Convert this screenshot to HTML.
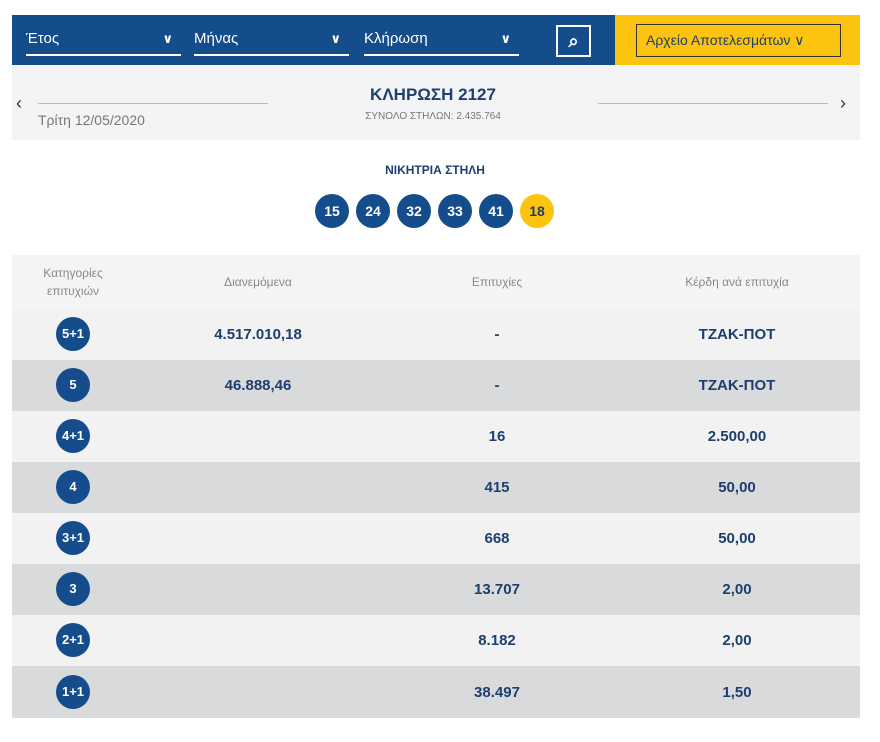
<!DOCTYPE html>
<html><head><meta charset="utf-8"><style>
*{margin:0;padding:0;box-sizing:border-box}
body{width:880px;height:742px;background:#fff;font-family:"Liberation Sans","DejaVu Sans",sans-serif;position:relative;overflow:hidden}
.a{position:absolute}
.bar{left:12px;top:15px;width:603px;height:50px;background:#154c8c}
.ybar{left:615px;top:15px;width:245px;height:50px;background:#fcc30f}
.sel{color:#fff;font-size:15px;top:30px;border-bottom:2px solid #fff;height:26px}
.chev{position:absolute;right:8px;top:1px;font-size:13px;font-weight:bold}
.nav{left:12px;top:65px;width:848px;height:75px;background:#f3f4f6}
.ball{width:34px;height:34px;border-radius:50%;background:#154c8c;color:#fff;font-weight:bold;font-size:14px;text-align:center;line-height:34px;top:194px}
.row{left:12px;width:848px;height:51px}
.badge{left:56px;width:34px;height:34px;border-radius:50%;background:#154c8c;color:#fff;font-weight:bold;font-size:13px;text-align:center;line-height:34px}
.c{color:#1d3e6e;font-weight:bold;font-size:15px;text-align:center;width:240px}
.h{color:#888;font-size:12px;text-align:center}
</style></head><body>
<div class="a bar"></div><div class="a ybar"></div>
<div class="a sel" style="left:26px;width:155px">Έτος<span class="chev">&#x2228;</span></div>
<div class="a sel" style="left:194px;width:155px">Μήνας<span class="chev">&#x2228;</span></div>
<div class="a sel" style="left:364px;width:155px">Κλήρωση<span class="chev">&#x2228;</span></div>
<div class="a" style="left:556px;top:25px;width:35px;height:32px;border:2px solid #fff;color:#fff;text-align:center;line-height:28px;font-size:18px;font-weight:bold">&#x2315;</div>
<div class="a" style="left:636px;top:24px;width:205px;height:33px;border:1px solid #333;color:#1d3e6e;font-size:14px;line-height:31px;padding-left:9px">Αρχείο Αποτελεσμάτων &#x2228;</div>
<div class="a nav"></div>
<div class="a" style="left:16px;top:93px;font-size:18px;color:#333">‹</div>
<div class="a" style="left:840px;top:93px;font-size:18px;color:#333">›</div>
<div class="a" style="left:38px;top:103px;width:230px;height:1px;background:#bbb"></div>
<div class="a" style="left:598px;top:103px;width:230px;height:1px;background:#bbb"></div>
<div class="a" style="left:38px;top:112px;font-size:14px;color:#777">Τρίτη 12/05/2020</div>
<div class="a" style="left:0;width:866px;top:85px;text-align:center;font-size:17px;font-weight:bold;color:#1d3e6e">ΚΛΗΡΩΣΗ 2127</div>
<div class="a" style="left:0;width:866px;top:111px;text-align:center;font-size:10px;color:#777">ΣΥΝΟΛΟ ΣΤΗΛΩΝ: 2.435.764</div>
<div class="a" style="left:0;width:870px;top:163px;text-align:center;font-size:12px;font-weight:bold;color:#1d3e6e">ΝΙΚΗΤΡΙΑ ΣΤΗΛΗ</div>
<div class="a ball" style="left:315px">15</div>
<div class="a ball" style="left:356px">24</div>
<div class="a ball" style="left:397px">32</div>
<div class="a ball" style="left:438px">33</div>
<div class="a ball" style="left:479px">41</div>
<div class="a ball" style="left:520px;background:#fcc30f;color:#1d3e6e">18</div>
<div class="a row" style="top:255px;height:54px;background:#f3f4f6"></div>
<div class="a h" style="left:23px;width:100px;top:264px;line-height:18px">Κατηγορίες<br>επιτυχιών</div>
<div class="a h" style="left:138px;width:240px;top:275px">Διανεμόμενα</div>
<div class="a h" style="left:377px;width:240px;top:275px">Επιτυχίες</div>
<div class="a h" style="left:617px;width:240px;top:275px">Κέρδη ανά επιτυχία</div>

<div class="a row" style="top:309px;background:#f2f2f2"></div>
<div class="a row" style="top:360px;background:#d9dadb"></div>
<div class="a row" style="top:411px;background:#f2f2f2"></div>
<div class="a row" style="top:462px;background:#d9dadb"></div>
<div class="a row" style="top:513px;background:#f2f2f2"></div>
<div class="a row" style="top:564px;background:#d9dadb"></div>
<div class="a row" style="top:615px;background:#f2f2f2"></div>
<div class="a row" style="top:666px;height:52px;background:#d9dadb"></div>

<div class="a badge" style="top:317px">5+1</div>
<div class="a badge" style="top:368px">5</div>
<div class="a badge" style="top:419px">4+1</div>
<div class="a badge" style="top:470px">4</div>
<div class="a badge" style="top:521px">3+1</div>
<div class="a badge" style="top:572px">3</div>
<div class="a badge" style="top:623px">2+1</div>
<div class="a badge" style="top:675px">1+1</div>

<div class="a c" style="left:138px;top:326px">4.517.010,18</div>
<div class="a c" style="left:138px;top:377px">46.888,46</div>
<div class="a c" style="left:377px;top:326px">-</div>
<div class="a c" style="left:377px;top:377px">-</div>
<div class="a c" style="left:617px;top:326px">ΤΖΑΚ-ΠΟΤ</div>
<div class="a c" style="left:617px;top:377px">ΤΖΑΚ-ΠΟΤ</div>
<div class="a c" style="left:377px;top:428px">16</div>
<div class="a c" style="left:617px;top:428px">2.500,00</div>
<div class="a c" style="left:377px;top:479px">415</div>
<div class="a c" style="left:617px;top:479px">50,00</div>
<div class="a c" style="left:377px;top:530px">668</div>
<div class="a c" style="left:617px;top:530px">50,00</div>
<div class="a c" style="left:377px;top:581px">13.707</div>
<div class="a c" style="left:617px;top:581px">2,00</div>
<div class="a c" style="left:377px;top:632px">8.182</div>
<div class="a c" style="left:617px;top:632px">2,00</div>
<div class="a c" style="left:377px;top:684px">38.497</div>
<div class="a c" style="left:617px;top:684px">1,50</div>
</body></html>
